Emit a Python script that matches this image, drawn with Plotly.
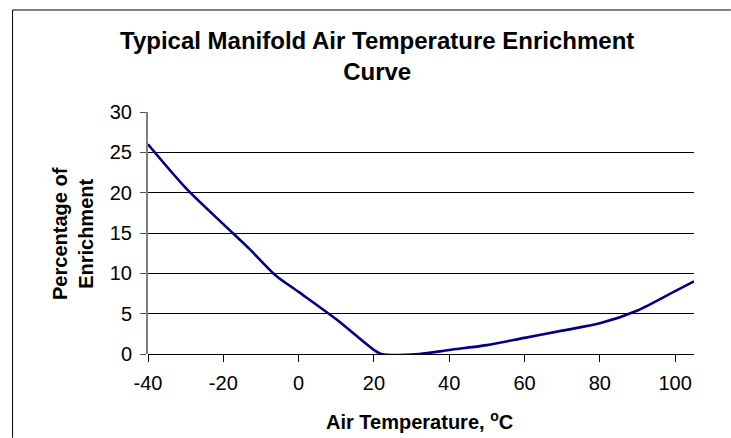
import plotly.graph_objects as go

# Manifold air temperature (deg C) vs. percentage of fuel enrichment
air_temp_c = [-40, -30, -20, -13, -6, 0, 10, 20, 22, 32, 40, 50, 60, 70, 80, 90, 100, 105]
enrichment_pct = [26.0, 20.6, 16.1, 13.0, 9.7, 7.7, 4.3, 0.5, 0.0, 0.0, 0.5, 1.1, 2.0, 2.9, 3.8, 5.4, 7.8, 9.0]

x_ticks = [-40, -20, 0, 20, 40, 60, 80, 100]
x_tick_labels = ["-40", "-20", "0", "20", "40", "60", "80", "100"]
y_ticks = [0, 5, 10, 15, 20, 25, 30]
y_tick_labels = ["0", "5", "10", "15", "20", "25", "30"]

FONT = "Arial, Liberation Sans, sans-serif"

fig = go.Figure(
    go.Scatter(
        x=air_temp_c,
        y=enrichment_pct,
        mode="lines",
        line=dict(color="#000080", width=2.6, shape="spline", smoothing=0.8),
        hoverinfo="x+y",
    )
)

fig.update_layout(
    width=731,
    height=438,
    margin=dict(l=148, r=37, t=112, b=84, pad=0),
    paper_bgcolor="white",
    plot_bgcolor="white",
    showlegend=False,
    font=dict(family=FONT, size=20, color="black"),
    xaxis=dict(
        range=[-40, 105],
        tickvals=x_ticks,
        ticktext=x_tick_labels,
        ticks="outside",
        ticklen=7,
        tickcolor="black",
        tickwidth=1,
        ticklabelstandoff=4,
        showgrid=False,
        zeroline=False,
        showline=False,
        tickfont=dict(family=FONT, size=20, color="black"),
    ),
    yaxis=dict(
        range=[0, 30],
        tickvals=y_ticks,
        ticktext=y_tick_labels,
        ticks="outside",
        ticklen=6,
        tickcolor="#555555",
        tickwidth=1,
        ticklabelstandoff=4,
        showgrid=True,
        gridcolor="black",
        gridwidth=1,
        zeroline=True,
        zerolinecolor="black",
        zerolinewidth=1,
        showline=True,
        linecolor="#808080",
        linewidth=2,
        tickfont=dict(family=FONT, size=20, color="black"),
    ),
    shapes=[
        # chart-area frame: left and top edges, running to the page edges
        dict(type="path", xref="paper", yref="paper",
             path="M -0.248,-0.346 L -0.248,1.4215 L 1.0675,1.4215",
             line=dict(color="black", width=1), layer="below"),
    ],
    annotations=[
        dict(text="<b>Typical Manifold Air Temperature Enrichment<br>Curve</b>",
             xref="paper", yref="paper", x=0.419, y=1.2325,
             xanchor="center", yanchor="middle", showarrow=False,
             font=dict(family=FONT, size=24, color="black")),
        dict(text="<b>Percentage of<br>Enrichment</b>",
             xref="paper", yref="paper", x=-0.1374, y=0.5, textangle=-90,
             xanchor="center", yanchor="middle", showarrow=False,
             font=dict(family=FONT, size=20, color="black")),
        dict(text="<b>Air Temperature, <sup>o</sup>C</b>",
             xref="paper", yref="paper", x=0.498, y=-0.273,
             xanchor="center", yanchor="middle", showarrow=False,
             font=dict(family=FONT, size=20, color="black")),
    ],
)

# keep the page itself from scrolling around the fixed-size figure
page_js = (
    "document.documentElement.style.overflow='hidden';"
    "document.body.style.margin='0';"
    "document.body.style.overflow='hidden';"
)
fig.write_html("out.html", config={"displayModeBar": False}, post_script=page_js)
